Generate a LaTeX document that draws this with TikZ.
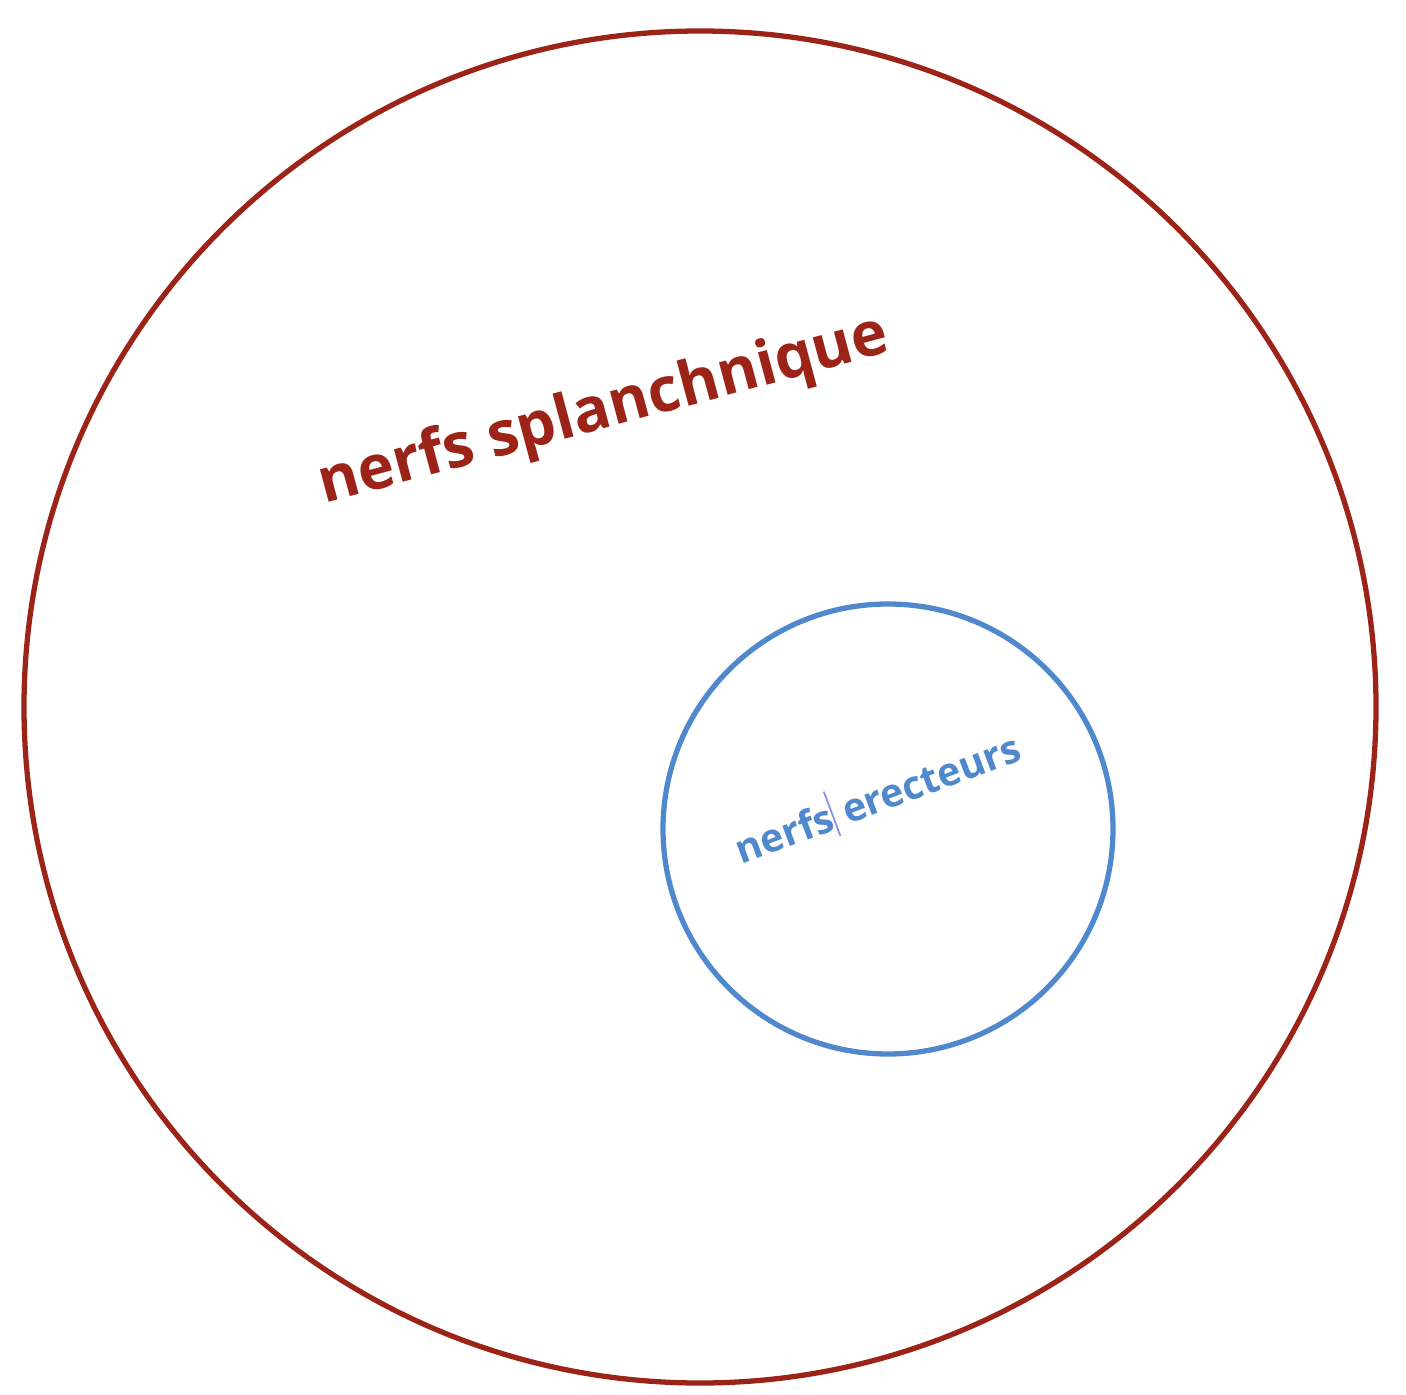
\documentclass[tikz,border=0pt]{standalone}
\usepackage{fontspec}
\setmainfont{Open Sans}
\definecolor{splanred}{HTML}{9B2318}
\definecolor{erectblue}{HTML}{4F88CC}
\definecolor{cursorlav}{HTML}{8C8CF0}
\begin{document}
\begin{tikzpicture}[scale=.2]
\useasboundingbox (0,0) rectangle (140.6,-139.5);
\draw[splanred, line width=3pt] (70,-70.7) circle (67.6);
\draw[erectblue, line width=3pt] (88.8,-82.9) circle (22.5);
\node[splanred, rotate=15, font=\fontsize{35}{42}\selectfont\bfseries] (splan) at (60.4,-41.2) {nerfs splanchnique};
\node[erectblue, rotate=20.5, font=\fontsize{22.4}{27}\selectfont\bfseries] (erect) at (87.7,-79.7) {nerfs{\color{cursorlav}\rule[-0.35ex]{1pt}{1.2em}} erecteurs};
\end{tikzpicture}
\end{document}
